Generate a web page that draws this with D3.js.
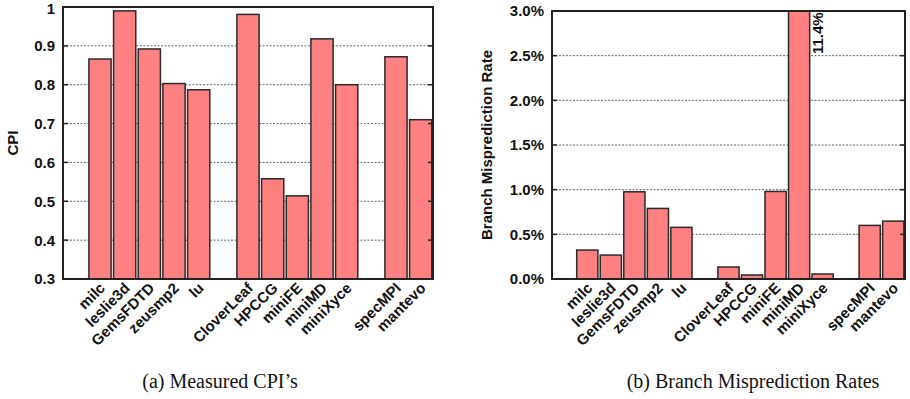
<!DOCTYPE html>
<html>
<head>
<meta charset="utf-8">
<script src="https://cdn.jsdelivr.net/npm/d3@7/dist/d3.min.js"></script>
<style>
  body { margin: 0; background: #fff; }
  svg { display: block; }
  .tick-label, .axis-title, .bar-label, .note { font-family: "Liberation Sans", Arial, sans-serif; font-weight: bold; font-size: 15px; fill: #111; }
  .caption { font-family: "Liberation Serif", "Times New Roman", serif; font-size: 20px; fill: #111; }
</style>
</head>
<body>
<div id="chart"></div>
<script>
// benchmark groups (a blank slot goes before each group)
var specGroup = ["milc", "leslie3d", "GemsFDTD", "zeusmp2", "lu"];
var mantevoGroup = ["CloverLeaf", "HPCCG", "miniFE", "miniMD", "miniXyce"];
var avgGroup = ["specMPI", "mantevo"];

var cpiValues = [0.866, 0.990, 0.892, 0.803, 0.787, 0.981, 0.558, 0.514, 0.918, 0.800, 0.872, 0.710];
var branchValues = [0.324, 0.268, 0.976, 0.790, 0.578, 0.134, 0.045, 0.980, 11.4, 0.056, 0.600, 0.648];

var cpiTicks = [0.3, 0.4, 0.5, 0.6, 0.7, 0.8, 0.9, 1];
var branchTicks = [0, 0.5, 1.0, 1.5, 2.0, 2.5, 3.0];

var categories = specGroup.concat(mantevoGroup, avgGroup);
var slots = ["gap0"].concat(specGroup, ["gap1"], mantevoGroup, ["gap2"], avgGroup);

var W = 910, H = 399;
var svg = d3.select("#chart").append("svg")
    .attr("width", W)
    .attr("height", H);

function drawPanel(opt) {
    var g = svg.append("g");
    var x = d3.scaleBand()
        .domain(slots)
        .range([opt.left, opt.right])
        .paddingInner(0.1)
        .paddingOuter(0.05);
    var y = d3.scaleLinear()
        .domain(opt.domain)
        .range([opt.bottom, opt.top])
        .clamp(true);

    // grid
    g.selectAll("line.grid")
        .data(opt.ticks.slice(1, -1))
        .enter().append("line")
        .attr("x1", opt.left).attr("x2", opt.right)
        .attr("y1", function (d) { return y(d); })
        .attr("y2", function (d) { return y(d); })
        .attr("stroke", "#666")
        .attr("stroke-width", 1)
        .attr("stroke-dasharray", "2,1.5");

    // bars
    var data = categories.map(function (c, i) { return { name: c, value: opt.values[i] }; });
    g.selectAll("rect.bar")
        .data(data)
        .enter().append("rect")
        .attr("x", function (d) { return x(d.name); })
        .attr("y", function (d) { return y(d.value); })
        .attr("width", x.bandwidth())
        .attr("height", function (d) { return opt.bottom - y(d.value); })
        .attr("fill", "#ff8080")
        .attr("stroke", "#2a2a2a")
        .attr("stroke-width", 1.5);

    // tick marks, left and right, inside
    opt.ticks.forEach(function (t) {
        g.append("line").attr("x1", opt.left).attr("x2", opt.left + 5)
            .attr("y1", y(t)).attr("y2", y(t)).attr("stroke", "#222").attr("stroke-width", 1.5);
        g.append("line").attr("x1", opt.right - 5).attr("x2", opt.right)
            .attr("y1", y(t)).attr("y2", y(t)).attr("stroke", "#222").attr("stroke-width", 1.5);
    });

    // frame
    g.append("rect")
        .attr("x", opt.left).attr("y", opt.top)
        .attr("width", opt.right - opt.left).attr("height", opt.bottom - opt.top)
        .attr("fill", "none").attr("stroke", "#222").attr("stroke-width", 2);

    // y tick labels (kept inside the page at the top)
    g.selectAll("text.tick-label.y")
        .data(opt.ticks)
        .enter().append("text")
        .attr("class", "tick-label")
        .attr("x", opt.left - 8)
        .attr("y", function (d) { return Math.max(y(d), 8.5); })
        .attr("dy", "0.36em")
        .attr("text-anchor", "end")
        .text(opt.fmt);

    // x tick labels
    g.selectAll("text.xlab")
        .data(categories)
        .enter().append("text")
        .attr("class", "tick-label")
        .attr("text-anchor", "end")
        .attr("transform", function (d) {
            return "translate(" + (x(d) + x.bandwidth() / 2 + 6) + "," + (opt.bottom + 10) + ") rotate(-45)";
        })
        .text(function (d) { return d; });

    // y axis title
    g.append("text")
        .attr("class", "axis-title")
        .attr("text-anchor", "middle")
        .attr("transform", "translate(" + opt.titleX + "," + ((opt.top + opt.bottom) / 2) + ") rotate(-90)")
        .text(opt.title);

    // caption
    g.append("text")
        .attr("class", "caption")
        .attr("x", opt.captionX)
        .attr("y", 388)
        .attr("text-anchor", "middle")
        .text(opt.caption);

    return { x: x, y: y, g: g };
}

drawPanel({
    left: 63, right: 433, top: 7, bottom: 279,
    domain: [0.3, 1], ticks: cpiTicks, values: cpiValues,
    fmt: function (d) { return d3.format("~g")(d); },
    title: "CPI", titleX: 18,
    caption: "(a) Measured CPI\u2019s", captionX: 220
});

var right = drawPanel({
    left: 552, right: 905, top: 11, bottom: 279,
    domain: [0, 3], ticks: branchTicks, values: branchValues,
    fmt: function (d) { return d3.format(".1f")(d) + "%"; },
    title: "Branch Misprediction Rate", titleX: 492,
    caption: "(b) Branch Misprediction Rates", captionX: 753
});

// value note for the clipped miniMD bar
var mdIndex = categories.indexOf("miniMD");
right.g.append("text")
    .attr("class", "note")
    .attr("text-anchor", "start")
    .attr("transform", "translate(" + (right.x("miniMD") + right.x.bandwidth() + 13) + "," + (right.y(3) + 43) + ") rotate(-90)")
    .text(d3.format(".1f")(branchValues[mdIndex]) + "%");
</script>
</body>
</html>
